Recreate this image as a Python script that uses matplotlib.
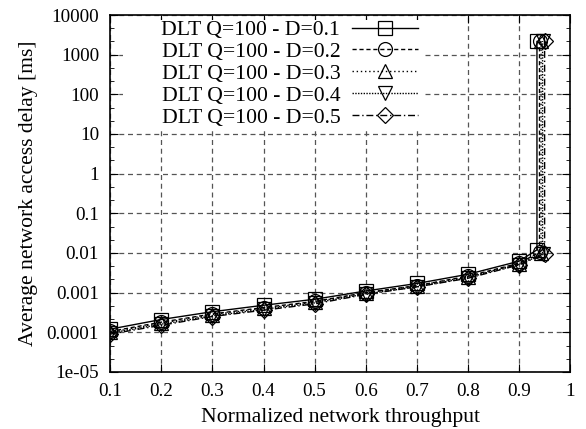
import numpy as np
import matplotlib.pyplot as plt
from matplotlib.patches import Rectangle
from matplotlib.ticker import LogLocator, FixedLocator, NullFormatter

plt.rcParams['font.family'] = ['Liberation Serif', 'DejaVu Serif']

# throughput points: 0.1 .. 0.9, then the saturation point (twice, for the vertical jump)
X_BASE = [0.1, 0.2, 0.3, 0.4, 0.5, 0.6, 0.7, 0.8, 0.9]
X_SAT = {'0.1': 0.935, '0.2': 0.94, '0.3': 0.943, '0.4': 0.946, '0.5': 0.95}

DELAY_D01 = [0.00012, 0.00021, 0.00033, 0.00048, 0.00068, 0.0011, 0.0017, 0.0029, 0.0062, 0.012, 2150]
DELAY_D02 = [0.000105, 0.00018, 0.00029, 0.00042, 0.0006, 0.001, 0.0015, 0.0026, 0.0055, 0.0105, 2150]
DELAY_D03 = [0.0001, 0.00017, 0.00028, 0.0004, 0.00058, 0.00098, 0.0015, 0.0025, 0.0053, 0.0098, 2200]
DELAY_D04 = [0.000095, 0.00016, 0.00026, 0.00038, 0.00055, 0.00093, 0.0014, 0.0024, 0.0051, 0.0093, 2200]
DELAY_D05 = [0.00009, 0.00015, 0.00025, 0.00036, 0.00052, 0.0009, 0.0014, 0.0023, 0.005, 0.0095, 2250]

X_TICKS = [0.1, 0.2, 0.3, 0.4, 0.5, 0.6, 0.7, 0.8, 0.9, 1.0]
X_TICKLABELS = ['0.1', '0.2', '0.3', '0.4', '0.5', '0.6', '0.7', '0.8', '0.9', '1']
Y_TICKS = [1e-5, 1e-4, 1e-3, 1e-2, 1e-1, 1, 10, 100, 1000, 10000]
Y_TICKLABELS = ['1e-05', '0.0001', '0.001', '0.01', '0.1', '1', '10', '100', '1000', '10000']

series = [
    ('0.1', DELAY_D01, 's', '-'),
    ('0.2', DELAY_D02, 'o', (0, (3, 2))),
    ('0.3', DELAY_D03, '^', (0, (1, 2))),
    ('0.4', DELAY_D04, 'v', (0, (1, 1))),
    ('0.5', DELAY_D05, 'D', (0, (5, 2, 1, 2))),
]

fig = plt.figure(figsize=(5.86, 4.29), dpi=100)
ax = fig.add_axes([0.188, 0.133, 0.785, 0.832])
ax.set_axisbelow(True)

for d, delays, marker, ls in series:
    xs = X_BASE + [X_SAT[d], X_SAT[d]]
    ms = 8 if marker == 'D' else 10
    ax.plot(xs, delays, color='black', linestyle=ls, linewidth=1.0,
            marker=marker, markersize=ms, markerfacecolor='none',
            markeredgecolor='black', markeredgewidth=0.9,
            label=f'DLT Q=100 - D={d}', zorder=3)

ax.set_yscale('log')
ax.set_xlim(0.1, 1.0)
ax.set_ylim(1e-5, 1e4)
ax.xaxis.set_major_locator(FixedLocator(X_TICKS))
ax.set_xticklabels(X_TICKLABELS)
ax.set_yticks(Y_TICKS)
ax.set_yticklabels(Y_TICKLABELS)
ax.yaxis.set_minor_locator(LogLocator(base=10, subs=[10 ** (1 / 3), 10 ** (2 / 3)], numticks=30))
ax.yaxis.set_minor_formatter(NullFormatter())

ax.tick_params(which='both', direction='in', top=True, right=True, labelsize=13.8)
ax.tick_params(which='major', length=6, pad=8)
ax.tick_params(which='minor', length=3)
ax.grid(True, which='major', color='#555555', linestyle=(0, (4, 3)), linewidth=0.9)

for s in ax.spines.values():
    s.set_linewidth(1.2)
    s.set_zorder(4)

ax.set_xlabel('Normalized network throughput', fontsize=15.6, labelpad=6)
ax.set_ylabel('Average network access delay [ms]', fontsize=15.6, labelpad=6)

# white key box hides the grid behind the legend
ax.add_patch(Rectangle((0.028, 0.678), 0.657, 0.308, transform=ax.transAxes,
                       facecolor='white', edgecolor='none', zorder=1))

leg = ax.legend(loc='upper right', bbox_to_anchor=(0.670, 0.986), frameon=False,
                markerfirst=False, fontsize=15.6, handlelength=3.05,
                labelspacing=0.08, handletextpad=0.55, borderpad=0.0,
                borderaxespad=0.0)
for t in leg.get_texts():
    t.set_ha('right')

fig.savefig('out.png', dpi=100)
